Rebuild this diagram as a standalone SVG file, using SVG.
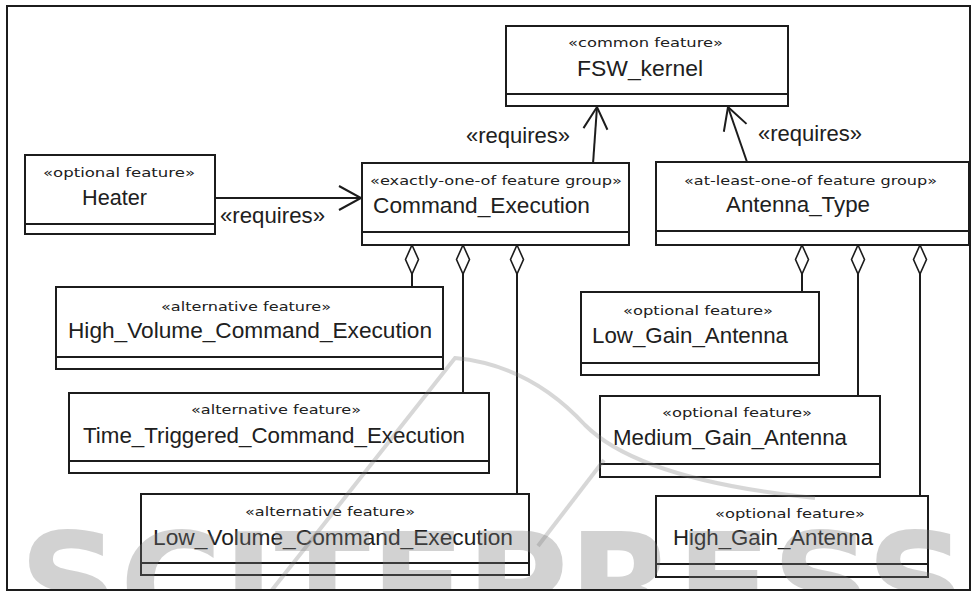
<svg xmlns="http://www.w3.org/2000/svg" width="972" height="592" viewBox="0 0 972 592">
  <style>
    .box { fill: #ffffff; stroke: #1c1c1c; stroke-width: 2; }
    .div { stroke: #1c1c1c; stroke-width: 2; }
    .st { font-family: "DejaVu Sans", "Liberation Sans", sans-serif; font-size: 13px; fill: #202020; }
    .nm { font-family: "Liberation Sans", Arial, sans-serif; font-size: 22px; fill: #202020; }
    .edge { fill: none; stroke: #1c1c1c; stroke-width: 2; }
    .lbl { font-family: "Liberation Sans", Arial, sans-serif; font-size: 22px; fill: #202020; }
    .wm { fill: #7a7a7a; opacity: 0.33; }
    .wms { fill: none; stroke: #7a7a7a; stroke-width: 4; opacity: 0.3; }
  </style>
  <defs>
    <marker id="open" markerUnits="userSpaceOnUse" viewBox="-26 -15 30 30" refX="0" refY="0" markerWidth="30" markerHeight="30" orient="auto">
      <path d="M -22 -12 L 0 0 L -22 12" fill="none" stroke="#1c1c1c" stroke-width="2"/>
    </marker>
    <marker id="agg" markerUnits="userSpaceOnUse" viewBox="-2 -9 34 18" refX="0" refY="0" markerWidth="34" markerHeight="18" orient="auto">
      <path d="M 0 0 L 14.5 -6.5 L 29 0 L 14.5 6.5 Z" fill="#ffffff" stroke="#1c1c1c" stroke-width="1.6"/>
    </marker>
    <clipPath id="frameClip">
      <rect x="8" y="7" width="961" height="582"/>
    </clipPath>
  </defs>

  <rect width="972" height="592" fill="#ffffff"/>
  <rect x="7" y="6" width="963" height="584" fill="none" stroke="#1c1c1c" stroke-width="2"/>

  <!-- connectors -->
  <g id="connectors">
    <line class="edge" x1="593" y1="164" x2="597" y2="107" marker-end="url(#open)"/>
    <line class="edge" x1="747" y1="162" x2="728" y2="107" marker-end="url(#open)"/>
    <line class="edge" x1="215" y1="198" x2="361" y2="198" marker-end="url(#open)"/>
    <text class="lbl" x="466" y="143" textLength="104" lengthAdjust="spacingAndGlyphs">«requires»</text>
    <text class="lbl" x="758" y="141" textLength="104" lengthAdjust="spacingAndGlyphs">«requires»</text>
    <text class="lbl" x="220" y="223" textLength="105" lengthAdjust="spacingAndGlyphs">«requires»</text>

    <line class="edge" x1="412" y1="245" x2="412" y2="287" marker-start="url(#agg)"/>
    <line class="edge" x1="463" y1="245" x2="463" y2="393" marker-start="url(#agg)"/>
    <line class="edge" x1="517" y1="245" x2="517" y2="494" marker-start="url(#agg)"/>
    <line class="edge" x1="802" y1="245" x2="802" y2="292" marker-start="url(#agg)"/>
    <line class="edge" x1="858" y1="245" x2="858" y2="396" marker-start="url(#agg)"/>
    <line class="edge" x1="920" y1="245" x2="920" y2="496" marker-start="url(#agg)"/>
  </g>

  <g id="FSW_kernel">
    <rect class="box" x="506" y="26" width="282" height="80"/>
    <line class="div" x1="506" y1="94" x2="788" y2="94"/>
    <text class="st" x="568" y="47" textLength="155" lengthAdjust="spacingAndGlyphs">«common feature»</text>
    <text class="nm" x="577" y="76" textLength="126" lengthAdjust="spacingAndGlyphs">FSW_kernel</text>
  </g>

  <g id="Heater">
    <rect class="box" x="25" y="155" width="190" height="79"/>
    <line class="div" x1="25" y1="224" x2="215" y2="224"/>
    <text class="st" x="43" y="177" textLength="152" lengthAdjust="spacingAndGlyphs">«optional feature»</text>
    <text class="nm" x="82" y="205" textLength="65" lengthAdjust="spacingAndGlyphs">Heater</text>
  </g>

  <g id="Command_Execution">
    <rect class="box" x="362" y="163" width="267" height="82"/>
    <line class="div" x1="362" y1="232" x2="629" y2="232"/>
    <text class="st" x="370" y="185" textLength="252" lengthAdjust="spacingAndGlyphs">«exactly-one-of feature group»</text>
    <text class="nm" x="373" y="213" textLength="217" lengthAdjust="spacingAndGlyphs">Command_Execution</text>
  </g>

  <g id="Antenna_Type">
    <rect class="box" x="656" y="162" width="313" height="83"/>
    <line class="div" x1="656" y1="231" x2="969" y2="231"/>
    <text class="st" x="684" y="185" textLength="253" lengthAdjust="spacingAndGlyphs">«at-least-one-of feature group»</text>
    <text class="nm" x="726" y="212" textLength="144" lengthAdjust="spacingAndGlyphs">Antenna_Type</text>
  </g>

  <g id="High_Volume_Command_Execution">
    <rect class="box" x="56" y="287" width="387" height="82"/>
    <line class="div" x1="56" y1="357" x2="443" y2="357"/>
    <text class="st" x="161" y="311" textLength="170" lengthAdjust="spacingAndGlyphs">«alternative feature»</text>
    <text class="nm" x="68" y="338" textLength="364" lengthAdjust="spacingAndGlyphs">High_Volume_Command_Execution</text>
  </g>

  <g id="Time_Triggered_Command_Execution">
    <rect class="box" x="69" y="393" width="420" height="80"/>
    <line class="div" x1="69" y1="461" x2="489" y2="461"/>
    <text class="st" x="191" y="414" textLength="170" lengthAdjust="spacingAndGlyphs">«alternative feature»</text>
    <text class="nm" x="83" y="443" textLength="382" lengthAdjust="spacingAndGlyphs">Time_Triggered_Command_Execution</text>
  </g>

  <g id="Low_Volume_Command_Execution">
    <rect class="box" x="141" y="494" width="388" height="81"/>
    <line class="div" x1="141" y1="563" x2="529" y2="563"/>
    <text class="st" x="245" y="516" textLength="170" lengthAdjust="spacingAndGlyphs">«alternative feature»</text>
    <text class="nm" x="153" y="545" textLength="360" lengthAdjust="spacingAndGlyphs">Low_Volume_Command_Execution</text>
  </g>

  <g id="Low_Gain_Antenna">
    <rect class="box" x="581" y="292" width="238" height="83"/>
    <line class="div" x1="581" y1="363" x2="819" y2="363"/>
    <text class="st" x="623" y="315" textLength="150" lengthAdjust="spacingAndGlyphs">«optional feature»</text>
    <text class="nm" x="592" y="343" textLength="196" lengthAdjust="spacingAndGlyphs">Low_Gain_Antenna</text>
  </g>

  <g id="Medium_Gain_Antenna">
    <rect class="box" x="600" y="396" width="280" height="81"/>
    <line class="div" x1="600" y1="464" x2="880" y2="464"/>
    <text class="st" x="662" y="417" textLength="150" lengthAdjust="spacingAndGlyphs">«optional feature»</text>
    <text class="nm" x="613" y="445" textLength="234" lengthAdjust="spacingAndGlyphs">Medium_Gain_Antenna</text>
  </g>

  <g id="High_Gain_Antenna">
    <rect class="box" x="656" y="496" width="272" height="81"/>
    <line class="div" x1="656" y1="564" x2="928" y2="564"/>
    <text class="st" x="715" y="518" textLength="150" lengthAdjust="spacingAndGlyphs">«optional feature»</text>
    <text class="nm" x="673" y="545" textLength="200" lengthAdjust="spacingAndGlyphs">High_Gain_Antenna</text>
  </g>

  <!-- publisher watermark overlay -->
  <g id="watermark" clip-path="url(#frameClip)">
    <path class="wms" d="M 272 590 L 455 358 Q 530 365 585 425 Q 640 480 815 498"/>
    <path class="wms" d="M 538 546 L 604 460"/>
    <text class="wm" x="19" y="634" font-family="DejaVu Sans, sans-serif" font-weight="bold" font-size="140" textLength="948" lengthAdjust="spacingAndGlyphs">SCITEPRESS</text>
  </g>
</svg>
